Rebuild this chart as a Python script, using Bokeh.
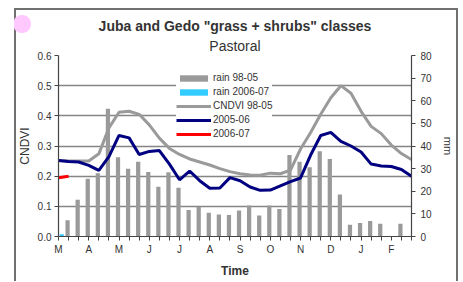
from bokeh.plotting import figure
from bokeh.models import (Range1d, LinearAxis, FixedTicker, Legend, LegendItem, Title,
                          NumeralTickFormatter, ColumnDataSource, InlineStyleSheet)
from bokeh.transform import dodge
from bokeh.embed import file_html
from bokeh.resources import INLINE

# ---------------- data ----------------
months = ["M", "A", "M", "J", "J", "A", "S", "O", "N", "D", "J", "F"]
dekads = list(range(36))

rain_98_05 = [0, 7.2, 16.2, 25.5, 28, 56.5, 35, 30, 33, 28.5, 22, 28.4,
              21.6, 11.7, 13, 10.5, 9.7, 9.5, 11.5, 13.7, 9.3, 13.7, 12.2, 36,
              33, 30.6, 37.7, 34.3, 18.6, 5.2, 6, 6.8, 5.6, 0, 5.6, 0]
rain_2006_07 = [1.0]

cndvi_98_05 = [0.252, 0.25, 0.25, 0.25, 0.274, 0.36, 0.412, 0.415, 0.405, 0.37, 0.326, 0.292,
               0.272, 0.257, 0.247, 0.237, 0.225, 0.215, 0.208, 0.204, 0.203, 0.21, 0.208, 0.22,
               0.29, 0.345, 0.405, 0.46, 0.50, 0.475, 0.415, 0.365, 0.341, 0.303, 0.275, 0.255]
cndvi_2005_06 = [0.252, 0.249, 0.247, 0.236, 0.219, 0.265, 0.335, 0.327, 0.272, 0.282, 0.285, 0.24,
                 0.188, 0.217, 0.185, 0.16, 0.161, 0.195, 0.185, 0.164, 0.153, 0.154, 0.168, 0.182,
                 0.194, 0.27, 0.335, 0.345, 0.315, 0.3, 0.28, 0.24, 0.234, 0.232, 0.222, 0.20]
cndvi_2006_07 = [0.195, 0.2]

left_ticks = [0.0, 0.1, 0.2, 0.3, 0.4, 0.5, 0.6]
right_ticks = [0, 10, 20, 30, 40, 50, 60, 70, 80]

title_text = 'Juba and Gedo "grass + shrubs" classes'
subtitle_text = "Pastoral"

# ---------------- figure ----------------
W, H = 463, 282
FONT = "Liberation Sans"
p = figure(width=W, height=H, output_backend="svg", toolbar_location=None,
           x_range=Range1d(0, 35), y_range=Range1d(0, 0.6),
           min_border_left=58, min_border_right=52, min_border_top=55, min_border_bottom=46)
p.extra_y_ranges = {"mm": Range1d(0, 80)}
p.outline_line_color = None
p.background_fill_color = "white"
p.border_fill_color = "white"

# outer chart-area frame and the pink dot (pure decoration)
p.stylesheets = [InlineStyleSheet(css="""
:host::before { content: ""; display: block; position: absolute; left: 14px; top: 8px;
  width: 444px; height: 273px; z-index: 12; pointer-events: none;
  background:
    linear-gradient(#707070, #707070) 0 0 / 2px 100% no-repeat,
    linear-gradient(#707070, #707070) 100% 0 / 2px 100% no-repeat,
    linear-gradient(#707070, #707070) 0 0 / 100% 2px no-repeat; }
:host::after { content: ""; position: absolute; left: 14px; top: 8px; width: 444px; height: 290px;
  z-index: 13; pointer-events: none;
  background: radial-gradient(circle at 8px 16px, #ffc8ff 0px, #ffc8ff 8.5px, rgba(255,200,255,0) 9.5px); }
""")]

src = ColumnDataSource(dict(x=dekads, rain=rain_98_05, c98=cndvi_98_05, c05=cndvi_2005_06))
src_new_rain = ColumnDataSource(dict(x=dekads[:len(rain_2006_07)], rain=rain_2006_07))
src_new_c = ColumnDataSource(dict(x=dekads[:len(cndvi_2006_07)], c=cndvi_2006_07))

r_rain = p.vbar(x=dodge("x", -0.1, range=p.x_range), top="rain", width=0.42, source=src,
                y_range_name="mm", fill_color="#9a9a9a", line_color=None)
r_rain_new = p.vbar(x=dodge("x", 0.32, range=p.x_range), top="rain", width=0.42, source=src_new_rain,
                    y_range_name="mm", fill_color="#33ccff", line_color=None)
r_c98 = p.line("x", "c98", source=src, line_color="#9a9a9a", line_width=3)
r_c05 = p.line("x", "c05", source=src, line_color="#000080", line_width=3)
r_c06 = p.line("x", "c", source=src_new_c, line_color="#ff0000", line_width=3)

# ---------------- titles ----------------
p.add_layout(Title(text=subtitle_text, align="center", text_font=FONT, text_font_size="14px",
                   text_font_style="normal", text_color="#333333", standoff=3), "above")
p.add_layout(Title(text=title_text, align="center", text_font=FONT, text_font_size="14px",
                   text_font_style="bold", text_color="#333333", standoff=2), "above")

# ---------------- axes ----------------
def style_axis(ax):
    ax.axis_line_color = "#444444"
    ax.axis_line_width = 1.2
    ax.major_tick_line_color = "#444444"
    ax.major_tick_out = 4
    ax.major_tick_in = 0
    ax.minor_tick_line_color = None
    ax.major_label_text_font = FONT
    ax.major_label_text_font_size = "10px"
    ax.major_label_text_color = "#333333"
    ax.axis_label_text_font = FONT
    ax.axis_label_text_color = "#333333"
    ax.axis_label_text_font_style = "normal"

xa = p.xaxis[0]
xa.ticker = FixedTicker(ticks=dekads)
overrides = {i: "" for i in dekads}
for k, m in enumerate(months):
    overrides[3 * k] = m
xa.major_label_overrides = overrides
xa.major_label_standoff = 3
style_axis(xa)
xa.axis_label = "Time"
xa.axis_label_text_font_size = "12px"
xa.axis_label_text_font_style = "bold"
xa.axis_label_standoff = 6

ya = p.yaxis[0]
ya.ticker = FixedTicker(ticks=left_ticks)
ya.formatter = NumeralTickFormatter(format="0.0")
ya.major_label_standoff = 3
style_axis(ya)
ya.axis_label = "CNDVI"
ya.axis_label_text_font_size = "12px"
ya.axis_label_standoff = 3

ra = LinearAxis(y_range_name="mm", ticker=FixedTicker(ticks=right_ticks))
style_axis(ra)
ra.major_label_standoff = 5
ra.axis_label = "mm"
ra.axis_label_text_font_size = "11px"
ra.axis_label_standoff = 7
p.add_layout(ra, "right")

p.xgrid.visible = False
p.ygrid.ticker = FixedTicker(ticks=left_ticks[1:])
p.ygrid.grid_line_color = "#858585"
p.ygrid.grid_line_width = 1.5

# ---------------- legend ----------------
legend = Legend(items=[
    LegendItem(label="rain 98-05", renderers=[r_rain]),
    LegendItem(label="rain 2006-07", renderers=[r_rain_new]),
    LegendItem(label="CNDVI 98-05", renderers=[r_c98]),
    LegendItem(label="2005-06", renderers=[r_c05]),
    LegendItem(label="2006-07", renderers=[r_c06]),
], location=(118, 97))
legend.margin = 0
legend.padding = 4
legend.spacing = 3
legend.glyph_width = 35
legend.glyph_height = 8
legend.label_height = 10
legend.label_standoff = 2
legend.label_text_font = FONT
legend.label_text_font_size = "10px"
legend.label_text_color = "#333333"
legend.border_line_color = None
legend.background_fill_color = "white"
legend.background_fill_alpha = 1.0
p.add_layout(legend)

open("out.html", "w").write(file_html(p, INLINE))
